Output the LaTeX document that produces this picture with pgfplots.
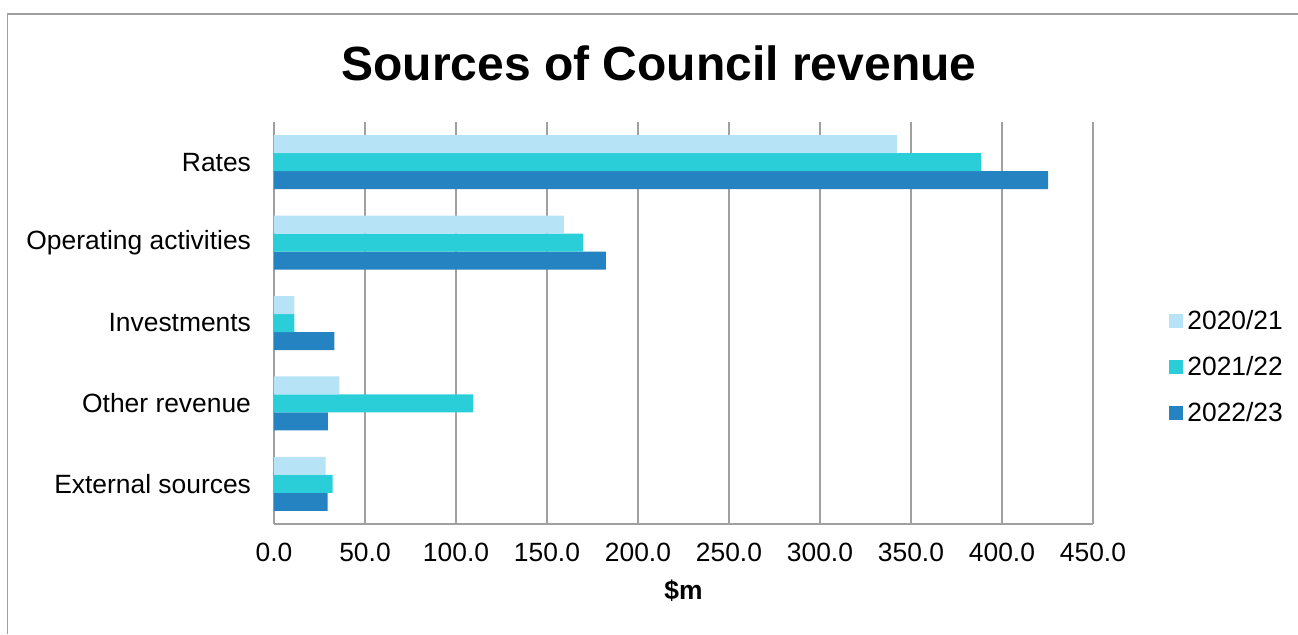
\documentclass[border=0pt]{standalone}
\usepackage{fontspec}
\setmainfont{Liberation Sans}
\usepackage{pgfplots}
\pgfplotsset{compat=1.18}
\definecolor{cA}{HTML}{B6E3F5}
\definecolor{cB}{HTML}{29CED8}
\definecolor{cC}{HTML}{2683C1}
\definecolor{gridc}{HTML}{A0A0A0}
\begin{document}
\begin{tikzpicture}
\path[use as bounding box] (0pt,0pt) rectangle (649pt,-317pt);
\draw[color=gridc, line width=0.6pt] (3.75pt,-317pt) -- (3.75pt,-7pt) -- (649pt,-7pt);
\node[font=\fontsize{24}{28}\selectfont\bfseries] at (329.5pt,-31.5pt) {Sources of Council revenue};
\begin{axis}[
  at={(137pt,-262pt)}, anchor=south west,
  scale only axis, width=409.5pt, height=201pt,
  xbar=0pt, bar width=9pt,
  xmin=0, xmax=450, ymin=-0.5, ymax=4.5, y dir=reverse,
  xtick={0,50,...,450},
  ytick={0,1,2,3,4},
  yticklabels={Rates, Operating activities, Investments, Other revenue, External sources},
  xmajorgrids, grid style={gridc, line width=0.75pt},
  axis x line=bottom, axis y line=left,
  axis line style={gridc, line width=0.75pt, -},
  major tick length=0pt,
  tick label style={font=\fontsize{13.2}{15}\selectfont},
  /pgf/number format/assume math mode=true,
  /pgf/number format/fixed,
  /pgf/number format/fixed zerofill,
  /pgf/number format/precision=1,
  /pgf/number format/1000 sep={},
  xticklabel style={yshift=-6pt},
  yticklabel style={xshift=-8pt},
  xlabel={\textbf{\$m}},
  xlabel style={font=\fontsize{13.2}{15}\selectfont, yshift=-2pt},
  legend style={at={(1.0928,0.39)}, anchor=west, draw=none, fill=none,
    font=\fontsize{13.2}{15}\selectfont, row sep=8pt, inner sep=0pt},
  legend cell align=left,
  reverse legend,
  legend image code/.code={\fill[#1,draw=none] (0pt,-3.5pt) rectangle (7pt,3.5pt);},
]
\addplot[fill=cC, draw=none] coordinates {(425.3,0) (182.4,1) (33.2,2) (29.6,3) (29.4,4)};
\addplot[fill=cB, draw=none] coordinates {(388.6,0) (169.8,1) (11.2,2) (109.3,3) (32.2,4)};
\addplot[fill=cA, draw=none] coordinates {(342.3,0) (159.3,1) (11.2,2) (35.9,3) (28.4,4)};
\legend{2022/23, 2021/22, 2020/21}
\end{axis}
\end{tikzpicture}
\end{document}
